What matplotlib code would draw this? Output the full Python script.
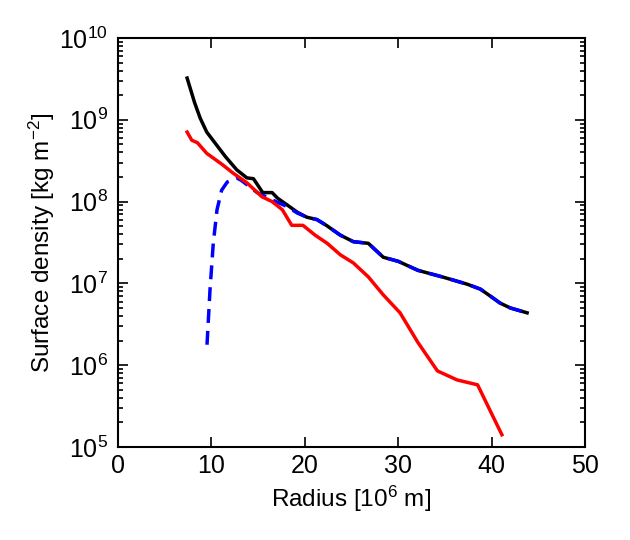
import matplotlib
matplotlib.use("Agg")
import matplotlib.pyplot as plt
from matplotlib.ticker import LogLocator, FixedLocator
import numpy as np

plt.rcParams['font.family'] = ['Liberation Sans', 'DejaVu Sans']
plt.rcParams['mathtext.fontset'] = 'custom'
plt.rcParams['mathtext.rm'] = 'Liberation Sans'
plt.rcParams['mathtext.it'] = 'Liberation Sans'

# Total (black)
r_total = [7.4, 8.2, 8.8, 9.5, 11.5, 12.7, 13.8, 14.5, 15.5, 16.5, 17.1, 18.1, 19.2, 20.2,
           21.3, 22.3, 23.8, 25.2, 26.8, 28.4, 30.0, 32.1, 34.7, 37.4, 38.8, 39.8, 40.9, 42.0, 43.8]
log_total = [9.51, 9.21, 9.02, 8.85, 8.55, 8.39, 8.29, 8.28, 8.11, 8.11, 8.04, 7.96, 7.87, 7.81,
             7.78, 7.71, 7.59, 7.51, 7.49, 7.32, 7.27, 7.16, 7.08, 6.99, 6.93, 6.85, 6.76, 6.70, 6.64]

# Blue dashed component
r_blue = [9.53, 9.85, 10.2, 10.6, 11.1, 11.7, 12.7, 13.2, 14.9, 17.1, 18.1, 19.2, 20.2,
          21.3, 22.3, 23.8, 25.2, 26.8, 28.4, 30.0, 32.1, 34.7, 37.4, 38.8, 39.8, 40.9, 42.0, 43.8]
log_blue = [6.25, 6.92, 7.49, 7.90, 8.14, 8.24, 8.29, 8.26, 8.11, 7.99, 7.94, 7.86, 7.81,
            7.78, 7.71, 7.59, 7.51, 7.49, 7.32, 7.27, 7.16, 7.08, 6.99, 6.93, 6.85, 6.76, 6.70, 6.64]

# Red component
r_red = [7.4, 7.9, 8.5, 9.5, 11.2, 12.3, 13.8, 15.4, 16.5, 17.6, 18.6, 19.8, 21.1, 22.4,
         23.8, 25.2, 26.8, 28.4, 30.2, 32.1, 34.2, 36.3, 38.5, 41.1]
log_red = [8.85, 8.75, 8.72, 8.59, 8.45, 8.35, 8.23, 8.06, 8.00, 7.90, 7.71, 7.71, 7.59, 7.49,
           7.35, 7.25, 7.08, 6.86, 6.64, 6.28, 5.93, 5.82, 5.76, 5.15]

fig = plt.figure(figsize=(6.3, 5.4), dpi=100)
ax = fig.add_axes([118/630, 1 - 447/540, (585-118)/630, (447-38)/540])

ax.plot(r_total, 10**np.array(log_total), color='black', lw=2.5, zorder=2)
ax.plot(r_blue, 10**np.array(log_blue), color='blue', lw=2.5, ls=(0, (4, 2.3)), zorder=3)
ax.plot(r_red, 10**np.array(log_red), color='red', lw=2.5, zorder=4)

ax.set_yscale('log')
ax.set_xlim(0, 50)
ax.set_ylim(1e5, 1e10)
ax.set_xticks([0, 10, 20, 30, 40, 50])
ax.yaxis.set_major_locator(FixedLocator([1e5, 1e6, 1e7, 1e8, 1e9, 1e10]))
ax.yaxis.set_minor_locator(LogLocator(base=10, subs=np.arange(2, 10), numticks=20))
ax.set_yticklabels([r'$10^{%d}$' % e for e in range(5, 11)])

ax.tick_params(which='both', direction='in', top=True, right=True, labelsize=18, width=1.2)
ax.tick_params(which='major', length=7)
ax.tick_params(axis='x', which='major', pad=5)
ax.tick_params(axis='y', which='major', pad=7)
ax.tick_params(which='minor', length=3.5)
ax.xaxis.set_minor_locator(FixedLocator([]))
for s in ax.spines.values():
    s.set_linewidth(1.5)

ax.set_xlabel(r'Radius [$10^6$ m]', fontsize=17.5, labelpad=4)
ax.set_ylabel(r'Surface density [kg m$^{-2}$]', fontsize=17.5, labelpad=2)

fig.savefig('out.png', dpi=100)
